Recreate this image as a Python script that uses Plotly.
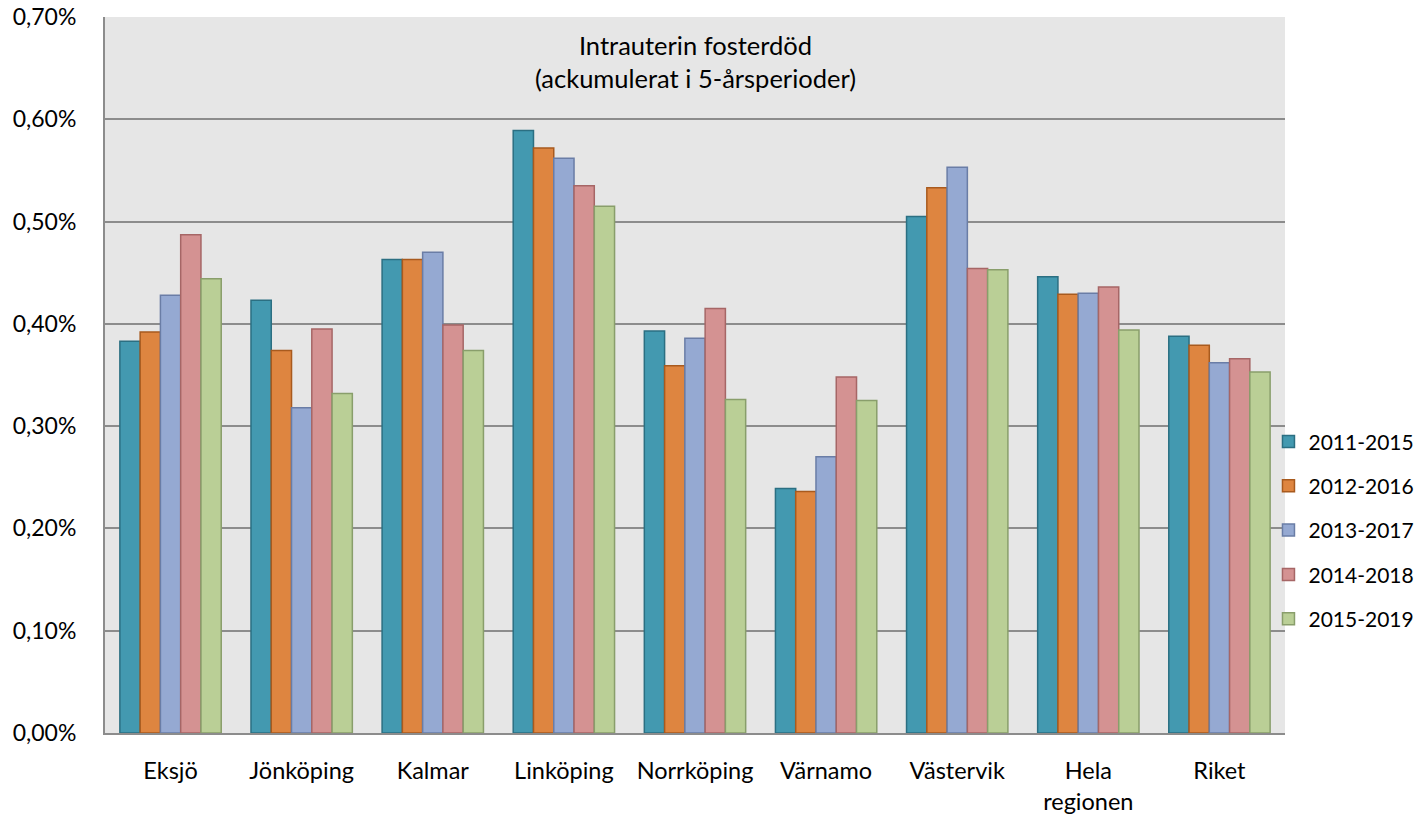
import plotly.graph_objects as go

categories = ["Eksjö", "Jönköping", "Kalmar", "Linköping", "Norrköping",
              "Värnamo", "Västervik", "Hela<br>regionen", "Riket"]
series_names = ["2011-2015", "2012-2016", "2013-2017", "2014-2018", "2015-2019"]
v2011_2015 = [0.383, 0.423, 0.463, 0.589, 0.393, 0.239, 0.505, 0.446, 0.388]
v2012_2016 = [0.392, 0.374, 0.463, 0.572, 0.359, 0.236, 0.533, 0.429, 0.379]
v2013_2017 = [0.428, 0.318, 0.470, 0.562, 0.386, 0.270, 0.553, 0.430, 0.362]
v2014_2018 = [0.487, 0.395, 0.399, 0.535, 0.415, 0.348, 0.454, 0.436, 0.366]
v2015_2019 = [0.444, 0.332, 0.374, 0.515, 0.326, 0.325, 0.453, 0.394, 0.353]
series_values = [v2011_2015, v2012_2016, v2013_2017, v2014_2018, v2015_2019]

fill_colors = ["#4399B0", "#DE8540", "#95A9D2", "#D49292", "#BACF96"]
line_colors = ["#2B6F82", "#A85A1E", "#6A7DA6", "#A66666", "#899E6B"]

FONT = "Lato"

fig = go.Figure()
for name, vals, fc, lc in zip(series_names, series_values, fill_colors, line_colors):
    fig.add_trace(go.Bar(
        x=categories, y=vals, name=name, legendgroup=name,
        marker=dict(color=fc, line=dict(color=lc, width=1.5)),
    ))

fig.update_layout(
    width=1418, height=815,
    margin=dict(l=105, r=133, t=17, b=82, autoexpand=False),
    paper_bgcolor="white", plot_bgcolor="#E6E6E6",
    barmode="group", bargap=0.227, bargroupgap=0,
    separators=", ",
    font=dict(family=FONT, size=22, color="black"),
    showlegend=True,
    legend=dict(x=0.986, xanchor="left", y=0.283, yanchor="middle",
                font=dict(size=21, family=FONT), tracegroupgap=14,
                bgcolor="rgba(0,0,0,0)", itemwidth=30),
    yaxis=dict(range=[0, 0.70], dtick=0.10, tickformat=".2f", ticksuffix="%",
               showgrid=True, gridcolor="#8C8C8C", gridwidth=2,
               showline=True, linecolor="#8C8C8C", linewidth=2,
               zeroline=False, ticks="", ticklabelstandoff=22, automargin=False,
               tickfont=dict(size=23, family=FONT)),
    xaxis=dict(showline=True, linecolor="#8C8C8C", linewidth=2, automargin=False,
               ticks="", tickfont=dict(size=23.5, family=FONT),
               ticklabelstandoff=16),
    annotations=[dict(
        text="Intrauterin fosterdöd<br>(ackumulerat i 5-årsperioder)",
        xref="paper", yref="paper", x=0.5, y=0.985, xanchor="center", yanchor="top",
        showarrow=False, font=dict(size=25.5, family=FONT, color="black"),
    )],
)

fig.write_html("out.html", config={"displayModeBar": False},
               post_script="document.body.style.margin='0';")
